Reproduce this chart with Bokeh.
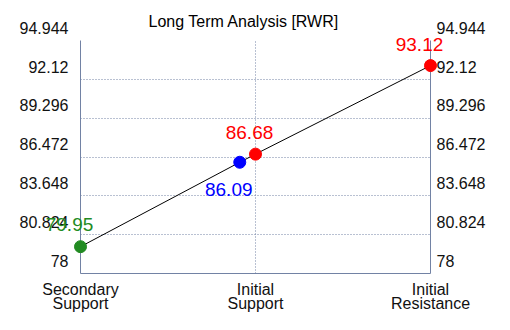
from bokeh.plotting import figure
from bokeh.models import Range1d, FixedTicker, LinearAxis, ColumnDataSource
from bokeh.core.properties import value
from bokeh.embed import file_html
from bokeh.resources import INLINE

# ---- data ----
title_text = "Long Term Analysis [RWR]"
categories = ["Secondary\nSupport", "Initial\nSupport", "Initial\nResistance"]
y_ticks = [78, 80.824, 83.648, 86.472, 89.296, 92.12, 94.944]
y_tick_labels = ["78", "80.824", "83.648", "86.472", "89.296", "92.12", "94.944"]
point_x = [0, 0.91, 1, 2]
point_values = [79.95, 86.09, 86.68, 93.12]
point_labels = ["79.95", "86.09", "86.68", "93.12"]
point_colors = ["#228B22", "#0000FF", "#FF0000", "#FF0000"]

# ---- styling ----
FONT = "Liberation Sans"
AXIS_COLOR = "#7282a4"
label_dx = [-11, -11, -6, -11]
label_dy = [-22, 27, -22, -21]

W, H = 494, 314
p = figure(width=W, height=H, output_backend="svg", toolbar_location=None,
           x_range=Range1d(0, 2), y_range=Range1d(y_ticks[0], y_ticks[-1]),
           x_axis_location=None, y_axis_location=None,
           min_border_left=80, min_border_right=64,
           min_border_top=38, min_border_bottom=35)
p.outline_line_color = None
p.background_fill_color = "white"
p.border_fill_color = "white"

p.title.text = title_text
p.title.align = "left"
p.title.offset = 68
p.title.text_font = FONT
p.title.text_font_size = "16px"
p.title.text_font_style = "normal"
p.title.text_color = "#000000"
p.title.text_line_height = 1.0
p.title.standoff = 21

def style_y_axis(ax, standoff):
    ax.ticker = FixedTicker(ticks=y_ticks)
    ax.major_label_overrides = {t: s + "\n" for t, s in zip(y_ticks, y_tick_labels)}
    ax.major_tick_out = 0
    ax.major_tick_in = 0
    ax.minor_tick_out = 0
    ax.minor_tick_in = 0
    ax.axis_line_color = AXIS_COLOR
    ax.major_label_text_font = FONT
    ax.major_label_text_font_size = "16px"
    ax.major_label_text_color = "#111111"
    ax.major_label_text_baseline = "middle"
    ax.major_label_text_line_height = 1.45
    ax.major_label_standoff = standoff

ly = LinearAxis()
style_y_axis(ly, 12)
p.add_layout(ly, "left")
ry = LinearAxis()
style_y_axis(ry, 6)
p.add_layout(ry, "right")

bx = LinearAxis()
bx.ticker = FixedTicker(ticks=[0, 1, 2])
bx.major_label_overrides = {i: c for i, c in enumerate(categories)}
bx.major_tick_out = 0
bx.major_tick_in = 0
bx.minor_tick_out = 0
bx.minor_tick_in = 0
bx.axis_line_color = AXIS_COLOR
bx.major_label_text_font = FONT
bx.major_label_text_font_size = "16px"
bx.major_label_text_color = "#111111"
bx.major_label_text_line_height = 0.85
bx.major_label_standoff = 7
p.add_layout(bx, "below")

p.xgrid.ticker = FixedTicker(ticks=[0, 1, 2])
p.ygrid.ticker = FixedTicker(ticks=y_ticks)
for g in (p.xgrid, p.ygrid):
    g.grid_line_color = AXIS_COLOR
    g.grid_line_dash = "1 2"
    g.grid_line_width = 1

src = ColumnDataSource(dict(x=point_x, y=point_values, color=point_colors,
                            label=point_labels, dx=label_dx, dy=label_dy))

p.line(x="x", y="y", source=src, line_color="black", line_width=1)
p.scatter(x="x", y="y", source=src, size=12, fill_color="color",
          line_color="color", level="overlay")
p.text(x="x", y="y", text="label", source=src, x_offset="dx", y_offset="dy",
       text_color="color", text_font=value(FONT), text_font_size="19px",
       text_align="center", text_baseline="middle", level="overlay")

open("out.html", "w").write(file_html(p, INLINE))
